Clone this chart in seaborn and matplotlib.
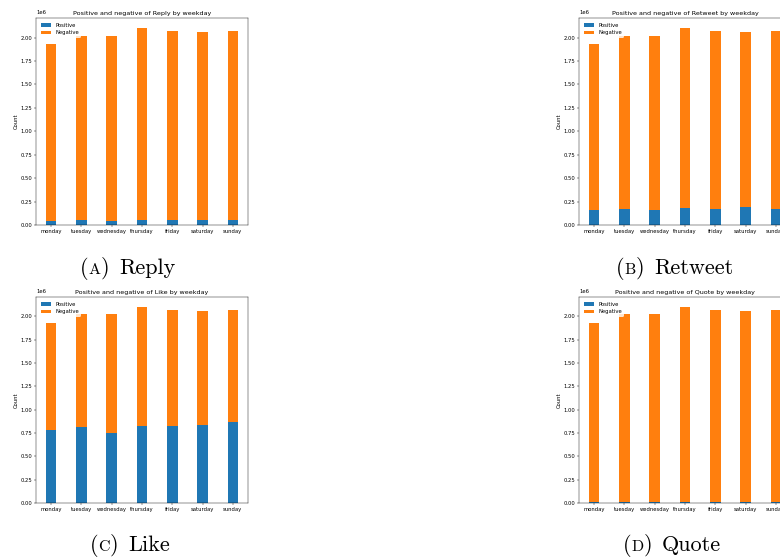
import matplotlib
matplotlib.use("Agg")
import matplotlib.pyplot as plt
import seaborn as sns

# Weekday categories shared by every panel
weekdays = ["monday", "tuesday", "wednesday", "thursday", "friday", "saturday", "sunday"]

# Counts of positive / negative interactions per weekday
reply_positive = [45_000, 50_000, 45_000, 50_000, 50_000, 50_000, 50_000]
reply_negative = [1_881_000, 1_971_000, 1_976_000, 2_053_000, 2_024_000, 2_010_000, 2_024_000]

retweet_positive = [163_000, 170_000, 163_000, 181_000, 174_000, 188_000, 174_000]
retweet_negative = [1_763_000, 1_851_000, 1_858_000, 1_922_000, 1_900_000, 1_872_000, 1_900_000]

like_positive = [787_000, 819_000, 748_000, 830_000, 823_000, 840_000, 872_000]
like_negative = [1_139_000, 1_202_000, 1_273_000, 1_273_000, 1_251_000, 1_220_000, 1_202_000]

quote_positive = [12_000, 12_000, 12_000, 12_000, 12_000, 12_000, 12_000]
quote_negative = [1_914_000, 2_009_000, 2_009_000, 2_091_000, 2_062_000, 2_048_000, 2_062_000]

panels = [
    ("Reply", "A", reply_positive, reply_negative),
    ("Retweet", "B", retweet_positive, retweet_negative),
    ("Like", "C", like_positive, like_negative),
    ("Quote", "D", quote_positive, quote_negative),
]

# Small, print-sized version of the default matplotlib look
k = 0.38
plt.rcParams.update({
    "font.size": 10 * k,
    "axes.titlesize": 12 * k,
    "axes.titlepad": 6 * k,
    "axes.labelsize": 10 * k,
    "axes.labelpad": 4 * k,
    "axes.linewidth": 0.8 * k,
    "xtick.major.size": 3.5 * k,
    "ytick.major.size": 3.5 * k,
    "xtick.major.width": 0.8 * k,
    "ytick.major.width": 0.8 * k,
    "xtick.major.pad": 3.5 * k,
    "ytick.major.pad": 3.5 * k,
    "legend.fontsize": 10 * k,
    "legend.handlelength": 2.0,
    "patch.linewidth": 0.0,
})

BLUE = "#1f77b4"
ORANGE = "#ff7f0e"

fig = plt.figure(figsize=(7.8, 5.57), dpi=100)
W, H = 780, 557

# axes boxes in pixels: (left, top, width, height)
boxes = [
    (36, 18, 212, 207),
    (579, 18, 212, 207),
    (36, 297, 212, 206),
    (579, 297, 212, 206),
]
captions_pos = [(128, 274), (675, 274), (130, 551), (672, 551)]

for (name, letter, pos, neg), (l, t, w, h) in zip(panels, boxes):
    ax = fig.add_axes([l / W, 1 - (t + h) / H, w / W, h / H])
    sns.barplot(x=weekdays, y=pos, color=BLUE, saturation=1, width=0.35,
                errorbar=None, label="Positive", ax=ax)
    sns.barplot(x=weekdays, y=neg, bottom=pos, color=ORANGE, saturation=1,
                width=0.35, errorbar=None, label="Negative", ax=ax)
    ax.set_title(f"Positive and negative of {name} by weekday")
    ax.set_ylabel("Count")
    ax.set_xlabel("")
    ax.legend(loc="upper left")

# Sub-figure captions "(X) Name" with a small-caps style letter
renderer = fig.canvas.get_renderer()
for (name, letter, _, _), (xc, yb) in zip(panels, captions_pos):
    # (text, font size, extra gap in pixels before the piece)
    pieces = [("(", 16, 0), (letter, 11.5, 0), (")", 16, 0), (name, 16, 10)]
    texts = []
    x = 0
    for s, size, gap in pieces:
        x += gap / W
        txt = fig.text(x, 1 - yb / H, s, fontsize=size, family="cmr10",
                       va="baseline", ha="left")
        texts.append((txt, gap))
        x += txt.get_window_extent(renderer).width / W
    total = x
    cur = xc / W - total / 2
    for txt, gap in texts:
        cur += gap / W
        txt.set_x(cur)
        cur += txt.get_window_extent(renderer).width / W

fig.savefig("out.png", dpi=100)
